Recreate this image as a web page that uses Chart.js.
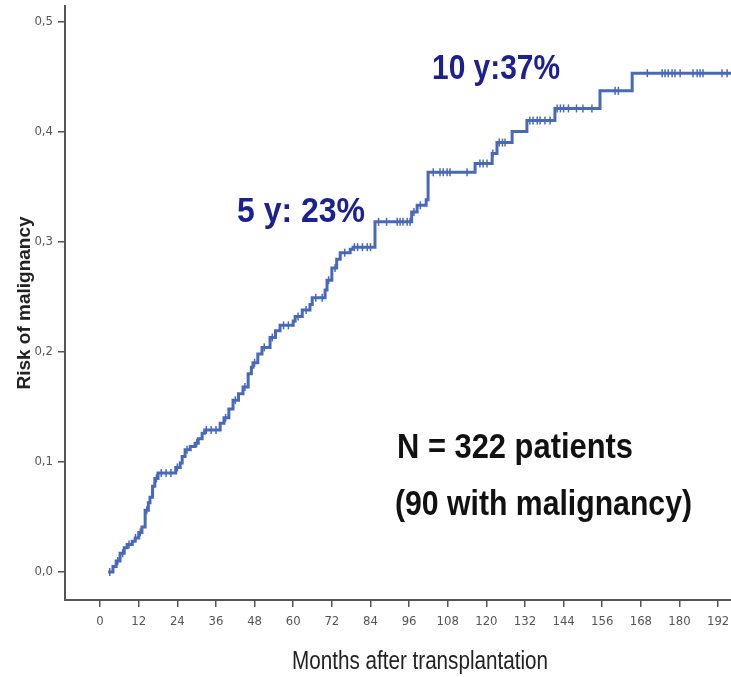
<!DOCTYPE html>
<html>
<head>
<meta charset="utf-8">
<script src="https://cdn.jsdelivr.net/npm/chart.js@4"></script>
<style>
  html, body { margin: 0; padding: 0; background: #fff; }
  canvas { display: block; }
</style>
</head>
<body>
<canvas id="kmChart" width="731" height="677"></canvas>
<script>
// cumulative risk curve: month of each step and risk after the step
var curveMonths = [2.5, 4, 5, 6.2, 7.5, 8.4, 10, 10.9, 12, 13, 14, 15, 15.5, 16.3, 17, 18,
  23.5, 24.9, 25.5, 26.4, 28, 29.5, 30.5, 31.7, 32.5,
  37.3, 38.5, 40, 41.3, 43, 44.4, 46, 47, 47.5, 49, 50.3, 52.8, 54.5, 55.9,
  60, 60.6, 62.8, 65.2, 65.9, 69.9, 70.5, 72, 73.5, 74.6, 77.7, 78.6,
  85.4, 96.8, 98.5, 101.3, 101.9, 116.5, 121.8, 123.3, 128, 132.6, 141.3, 155.3, 165.3, 196];
var curveRisk = [0, 0.005, 0.010, 0.017, 0.022, 0.025, 0.028, 0.031, 0.036, 0.041, 0.056, 0.063, 0.068, 0.078, 0.085, 0.090,
  0.095, 0.099, 0.105, 0.111, 0.114, 0.117, 0.121, 0.126, 0.129,
  0.135, 0.140, 0.148, 0.156, 0.162, 0.168, 0.180, 0.186, 0.190, 0.198, 0.204, 0.213, 0.219, 0.224,
  0.228, 0.232, 0.238, 0.243, 0.249, 0.256, 0.265, 0.276, 0.284, 0.290, 0.293, 0.295,
  0.318, 0.327, 0.333, 0.338, 0.363, 0.371, 0.380, 0.390, 0.400, 0.410, 0.421, 0.437, 0.453, 0.453];

// censored patients (tick marks on the curve)
var censorMonths = [3, 5.5, 7, 9, 11, 12.5, 14.5, 17.5, 19, 20.5, 22, 24, 27, 30, 33, 34.5, 36,
  39, 42, 45, 48, 51, 53.5, 57, 58.5, 61.5, 64, 67, 69, 71, 73, 76,
  79, 80, 81.5, 83, 84, 86.5, 89, 92.3, 93.2, 94.1, 95.4, 96.3, 97.5, 99.5,
  103.5, 105.6, 106.6, 107.8, 108.7, 114, 118, 119, 120.2, 122, 124, 125, 125.8,
  133.5, 134.5, 135.8, 136.7, 138.2, 139.8, 142, 143, 144, 145.5, 148, 150, 152.8, 160, 161,
  170, 174.6, 175.5, 176.5, 177.7, 178.6, 180.2, 184.2, 185.5, 186.4, 187.3, 193.2, 194.8];
var censorRisk = [0, 0.010, 0.017, 0.025, 0.031, 0.036, 0.056, 0.085, 0.090, 0.090, 0.090, 0.095, 0.111, 0.117, 0.129, 0.129, 0.129,
  0.140, 0.156, 0.168, 0.190, 0.204, 0.213, 0.224, 0.224, 0.232, 0.238, 0.249, 0.249, 0.265, 0.276, 0.290,
  0.295, 0.295, 0.295, 0.295, 0.295, 0.318, 0.318, 0.318, 0.318, 0.318, 0.318, 0.318, 0.327, 0.333,
  0.363, 0.363, 0.363, 0.363, 0.363, 0.363, 0.371, 0.371, 0.371, 0.380, 0.390, 0.390, 0.390,
  0.410, 0.410, 0.410, 0.410, 0.410, 0.410, 0.421, 0.421, 0.421, 0.421, 0.421, 0.421, 0.421, 0.437, 0.437,
  0.453, 0.453, 0.453, 0.453, 0.453, 0.453, 0.453, 0.453, 0.453, 0.453, 0.453, 0.453, 0.453];

var xTicks = [0, 12, 24, 36, 48, 60, 72, 84, 96, 108, 120, 132, 144, 156, 168, 180, 192];
var yTicks = [0, 0.1, 0.2, 0.3, 0.4, 0.5];

var NARROW = '"Liberation Sans Narrow", "DejaVu Sans Condensed", "Liberation Sans", Arial, sans-serif';
var SANS = '"Liberation Sans", Arial, sans-serif';
var LINE_BLUE = '#4868b8';
var AXIS_GREY = '#555555';

var curvePoints = curveMonths.map(function (m, i) { return { x: m, y: curveRisk[i] }; });
var censorPoints = censorMonths.map(function (m, i) { return { x: m, y: censorRisk[i] }; });

// draw text squeezed to a given width (the original uses a narrow typeface)
function narrowText(ctx, text, x, y, w, align) {
  var m = ctx.measureText(text).width;
  var k = Math.min(1, w / m);
  ctx.save();
  ctx.translate(align === 'center' ? x - w / 2 : x, y);
  ctx.scale(k, 1);
  ctx.textAlign = 'left';
  ctx.fillText(text, 0, 0);
  ctx.restore();
}

// free text drawn over the plot
var notesPlugin = {
  id: 'notes',
  afterDraw: function (chart) {
    var ctx = chart.ctx;
    ctx.save();
    ctx.textBaseline = 'alphabetic';
    ctx.fillStyle = '#1c2190';
    ctx.font = 'bold 35px ' + SANS;
    narrowText(ctx, '5 y: 23%', 237, 222, 128);
    narrowText(ctx, '10 y:37%', 432, 79, 128);
    ctx.fillStyle = '#111111';
    narrowText(ctx, 'N = 322 patients', 397, 458, 236);
    narrowText(ctx, '(90 with malignancy)', 395, 515, 297);
    ctx.fillStyle = '#222222';
    ctx.font = '25px ' + SANS;
    narrowText(ctx, 'Months after transplantation', 420, 669, 256, 'center');
    ctx.restore();
  }
};

var ctx = document.getElementById('kmChart').getContext('2d');
new Chart(ctx, {
  type: 'scatter',
  data: {
    datasets: [{
      type: 'line',
      data: curvePoints,
      stepped: true,
      borderColor: LINE_BLUE,
      borderWidth: 3,
      pointRadius: 0,
      fill: false
    }, {
      type: 'scatter',
      data: censorPoints,
      pointStyle: 'line',
      rotation: 90,
      pointRadius: 4,
      borderColor: LINE_BLUE,
      backgroundColor: LINE_BLUE,
      borderWidth: 1.5
    }]
  },
  options: {
    responsive: false,
    animation: false,
    layout: { autoPadding: false, padding: { top: 6, left: 0, right: 0, bottom: 0 } },
    plugins: {
      legend: { display: false },
      tooltip: { enabled: false }
    },
    scales: {
      x: {
        type: 'linear',
        min: -10.9,
        max: 196,
        afterBuildTicks: function (scale) {
          scale.ticks = xTicks.map(function (v) { return { value: v }; });
        },
        afterFit: function (scale) {
          scale.height = 77;
          scale.paddingLeft = 0;
          scale.paddingRight = 0;
        },
        grid: { drawOnChartArea: false, drawTicks: true, tickLength: 7, color: AXIS_GREY, lineWidth: 1.5 },
        border: { display: true, color: AXIS_GREY, width: 2 },
        ticks: { color: AXIS_GREY, font: { family: NARROW, size: 13 }, padding: 7, maxRotation: 0, autoSkip: false }
      },
      y: {
        min: -0.0254,
        max: 0.514,
        afterBuildTicks: function (scale) {
          scale.ticks = yTicks.map(function (v) { return { value: v }; });
        },
        afterFit: function (scale) {
          scale.width = 65;
          scale.paddingTop = 0;
          scale.paddingBottom = 0;
        },
        grid: { drawOnChartArea: false, drawTicks: true, tickLength: 7, color: AXIS_GREY, lineWidth: 1.5 },
        border: { display: true, color: AXIS_GREY, width: 2 },
        ticks: {
          color: AXIS_GREY,
          font: { family: NARROW, size: 13 },
          padding: 5,
          callback: function (v) { return v.toFixed(1).replace('.', ','); }
        },
        title: {
          display: true,
          text: 'Risk of malignancy',
          color: '#222222',
          font: { family: SANS, size: 19, weight: 'bold' },
          padding: { top: 13, bottom: 0 }
        }
      }
    }
  },
  plugins: [notesPlugin]
});
</script>
</body>
</html>
